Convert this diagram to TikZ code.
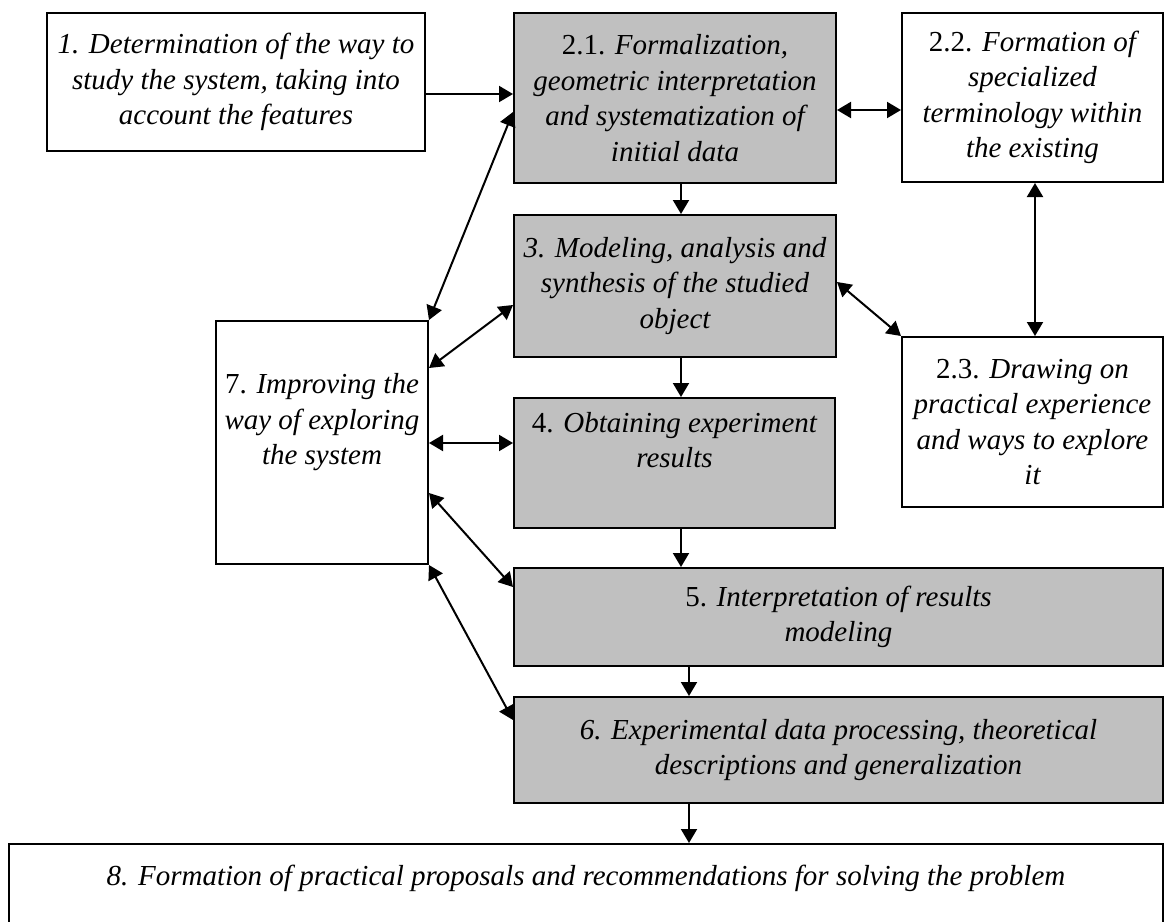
\documentclass[tikz,border=0pt]{standalone}
\usepackage{fontspec}
\setmainfont{Liberation Serif}
\usetikzlibrary{arrows.meta}
\definecolor{boxgray}{RGB}{192,192,192}

\begin{document}
\begin{tikzpicture}[x=0.5pt,y=-0.5pt,line width=1pt,
	box/.style={draw,fill=white,align=center,inner sep=0pt,font=\fontsize{14.5pt}{17.75pt}\selectfont\itshape},
	graybox/.style={box,fill=boxgray},
	arr/.style={-{Triangle[length=7pt,width=8pt]}},
	dblarr/.style={{Triangle[length=7pt,width=8pt]}-{Triangle[length=7pt,width=8pt]}}]
	\useasboundingbox (0,0) rectangle (1164,922);
	\clip (0,0) rectangle (1164,922);
	
	%boxes
	\node[box,minimum width=189pt,minimum height=69pt] (b1) at (236,82) {1. Determination of the way to\\ study the system, taking into\\ account the features};
	\node[graybox,minimum width=161pt,minimum height=85pt] (b21) at (675,98) {{\upshape 2.1.} Formalization,\\ geometric interpretation\\ and systematization of\\ initial data};
	\node[box,minimum width=130.5pt,minimum height=84.5pt] (b22) at (1032.5,97.5) {{\upshape 2.2.} Formation of\\ specialized\\ terminology within\\ the existing};
	\node[graybox,minimum width=161pt,minimum height=71pt] (b3) at (675,286) {3. Modeling, analysis and\\ synthesis of the studied\\ object};
	\node[box,minimum width=130.5pt,minimum height=85pt] (b23) at (1032.5,422) {{\upshape 2.3.} Drawing on\\ practical experience\\ and ways to explore\\ it};
	\node[box,minimum width=106pt,minimum height=121.5pt] (b7) at (322,442.5) {{\upshape 7.} Improving the\\ way of exploring\\ the system\\ \strut};
	\node[graybox,minimum width=160.5pt,minimum height=65pt] (b4) at (674.5,463) {{\upshape 4.} Obtaining experiment\\ results\\ \strut};
	\node[graybox,minimum width=324.5pt,minimum height=49pt] (b5) at (838.5,617) {{\upshape 5.} Interpretation of results\\ modeling};
	\node[graybox,minimum width=324.5pt,minimum height=53pt] (b6) at (838.5,750) {6. Experimental data processing, theoretical\\ descriptions and generalization};
	\node[box,minimum width=577pt,minimum height=54pt] (b8) at (586,898) {8. Formation of practical proposals and recommendations for solving the problem\\ \strut};
	
	%arrows down the middle
	\draw[arr] (b1.east |- 0,94) -- (b21.west |- 0,94);
	\draw[arr] (b21.south -| 681,0) -- (b3.north -| 681,0);
	\draw[arr] (b3.south -| 681,0) -- (b4.north -| 681,0);
	\draw[arr] (b4.south -| 681,0) -- (b5.north -| 681,0);
	\draw[arr] (b5.south -| 689,0) -- (b6.north -| 689,0);
	\draw[arr] (b6.south -| 689,0) -- (b8.north -| 689,0);
	
	%two-way arrows
	\draw[dblarr] (b21.east |- 0,110) -- (b22.west |- 0,110);
	\draw[dblarr] (b22.south -| 1035,0) -- (b23.north -| 1035,0);
	\draw[dblarr] (b3.east |- 0,282) -- (b23.north west);
	\draw[dblarr] (b21.west |- 0,112) -- (b7.north east);
	\draw[dblarr] (b3.west |- 0,305) -- (b7.east |- 0,368);
	\draw[dblarr] (b7.east |- 0,443) -- (b4.west |- 0,443);
	\draw[dblarr] (b7.east |- 0,493) -- (b5.west |- 0,587);
	\draw[dblarr] (b7.south east) -- (b6.west |- 0,720);
\end{tikzpicture}
\end{document}
